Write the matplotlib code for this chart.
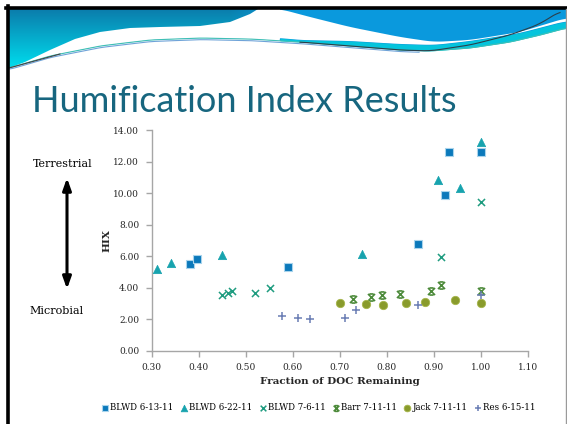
import numpy as np
import matplotlib.pyplot as plt
from matplotlib.path import Path
from matplotlib.patches import Polygon
from matplotlib.colors import to_rgb

# HIX vs fraction of DOC remaining, one list pair per sample
blwd613_x = [0.381, 0.396, 0.590, 0.866, 0.924, 0.932, 1.000]
blwd613_y = [5.51, 5.81, 5.32, 6.76, 9.90, 12.60, 12.58]
blwd622_x = [0.311, 0.340, 0.450, 0.747, 0.908, 0.955, 1.000]
blwd622_y = [5.19, 5.55, 6.06, 6.14, 10.81, 10.30, 13.22]
blwd76_x = [0.450, 0.463, 0.470, 0.520, 0.551, 0.916, 1.000]
blwd76_y = [3.55, 3.65, 3.80, 3.65, 4.01, 5.95, 9.42]
barr_x = [0.727, 0.767, 0.789, 0.828, 0.893, 0.916, 1.000]
barr_y = [3.27, 3.44, 3.52, 3.61, 3.78, 4.16, 3.80]
jack_x = [0.700, 0.756, 0.791, 0.840, 0.880, 0.944, 1.000]
jack_y = [3.02, 2.98, 2.91, 3.02, 3.12, 3.23, 3.04]
res_x = [0.577, 0.612, 0.636, 0.710, 0.735, 0.867, 1.000]
res_y = [2.24, 2.09, 2.03, 2.11, 2.60, 2.89, 3.57]

labels = ['BLWD 6-13-11', 'BLWD 6-22-11', 'BLWD 7-6-11', 'Barr 7-11-11', 'Jack 7-11-11', 'Res 6-15-11']
xticks = [0.30, 0.40, 0.50, 0.60, 0.70, 0.80, 0.90, 1.00, 1.10]
yticks = [0, 2, 4, 6, 8, 10, 12, 14]

SERIF = 'DejaVu Serif'

# asterisk-ish marker: an x with short bars top and bottom
barr_marker = Path([(-1, -1), (1, 1), (-1, 1), (1, -1), (-0.6, 1), (0.6, 1), (-0.6, -1), (0.6, -1)],
                   [Path.MOVETO, Path.LINETO] * 4)


def smooth(pts, xs):
    px, py = zip(*pts)
    ys = np.interp(xs, px, py)
    k = np.ones(15) / 15
    pad = np.pad(ys, 7, mode='edge')
    return np.convolve(pad, k, mode='valid')


fig = plt.figure(figsize=(5.67, 4.24), dpi=100)

# slide background: header swoosh, borders, title, side notes
bg = fig.add_axes([0, 0, 1, 1], zorder=0)
bg.set_xlim(0, 567)
bg.set_ylim(424, 0)
bg.axis('off')

xs = np.linspace(9, 566, 600)
bottom = smooth([(9, 68), (50, 56), (100, 46), (150, 40), (200, 38), (250, 39), (300, 42),
                 (350, 46), (400, 50), (430, 51), (470, 48), (510, 42), (540, 35), (566, 28)], xs)

# gradient fill for the header band
w, h = 557, 62
gx = np.linspace(9, 566, w)[None, :, None]
gy = np.linspace(9, 71, h)[:, None, None]
top_c = np.array(to_rgb('#0b7dac'))
low_c = np.array(to_rgb('#00d8ea'))
right_c = np.array(to_rgb('#0a99dd'))
ty = np.clip((gy - 9) / 56, 0, 1)
left = top_c * (1 - ty) + low_c * ty
tx = np.clip((gx - 230) / 60, 0, 1)
img = left * (1 - tx) + right_c * tx
head_poly = Polygon([(9, 9), (566, 9)] + list(zip(xs[::-1], bottom[::-1])), closed=True,
                    facecolor='none', edgecolor='none')
bg.add_patch(head_poly)
im = bg.imshow(img, extent=(9, 566, 71, 9), origin='upper', aspect='auto', zorder=1)
im.set_clip_path(head_poly)

# white swoosh
up_x = [9, 25, 50, 75, 100, 130, 160, 200, 230, 250, 258]
up_y = [68, 62, 50, 39, 32, 28, 27, 26, 22, 14, 9]
rx = np.linspace(280, 566, 200)
r_up = smooth([(280, 9), (310, 17), (350, 27), (400, 37), (434, 42), (470, 40), (520, 32), (566, 18)], rx)
r_lo = smooth([(280, 38), (300, 40), (350, 41), (400, 44), (434, 45), (470, 41), (520, 33), (566, 21)], rx)
lo_mask = xs < 280
white = (list(zip(up_x, up_y)) + [(280, 9)] + list(zip(rx, r_up)) +
         list(zip(rx[::-1], r_lo[::-1])) + list(zip(xs[lo_mask][::-1], bottom[lo_mask][::-1])))
bg.add_patch(Polygon(white, closed=True, facecolor='white', edgecolor='none', zorder=2))

# cyan strip under the white on the right
band_bot = np.interp(rx, xs, bottom)
bg.fill_between(rx, r_lo, band_bot, color='#05c4dc', lw=0, zorder=2)

# thin lines along the lower edge
bg.plot(xs, bottom, color='#3fbfb5', lw=0.8, zorder=3)
bg.plot(xs[xs < 420], bottom[xs < 420] + 1.6, color='#6fa3d8', lw=0.8, zorder=3)
dx = np.linspace(300, 560, 200)
dline = smooth([(300, 42), (350, 46), (400, 50), (430, 51), (470, 45), (510, 35), (540, 24), (560, 11)], dx)
bg.plot(dx, dline, color='#2b3f4a', lw=0.8, zorder=3)
bg.plot([9, 60], [68, 54], color='#444444', lw=0.8, zorder=3)

# slide frame
bg.plot([7.5, 7.5], [6, 424], color='black', lw=2.6, zorder=4)
bg.plot([6, 567], [7.5, 7.5], color='black', lw=2.6, zorder=4)
bg.plot([565.5, 565.5], [9, 424], color='#9a9a9a', lw=1, zorder=4)

bg.text(32, 112, 'Humification Index Results', fontsize=26, color='#17667f',
        family='Lato', va='baseline', ha='left', zorder=4)

bg.text(63, 167, 'Terrestrial', fontsize=8, family=SERIF, ha='center', va='baseline')
bg.text(57, 314, 'Microbial', fontsize=8, family=SERIF, ha='center', va='baseline')
bg.annotate('', xy=(67, 178), xytext=(67, 289),
            arrowprops=dict(arrowstyle='<|-|>,head_length=0.7,head_width=0.25',
                            color='black', lw=2.2, shrinkA=0, shrinkB=0))

# scatter chart
ax = fig.add_axes([151.7 / 567, 73 / 424, 376.3 / 567, 221 / 424], zorder=1)
ax.patch.set_alpha(0)

ax.scatter(blwd613_x, blwd613_y, marker='s', s=34, color='#0b79bb', edgecolors='#a9d4ec',
           linewidths=0.8, label=labels[0], zorder=3)
ax.scatter(blwd622_x, blwd622_y, marker='^', s=36, color='#17a3ae', edgecolors='#17a3ae',
           linewidths=0.5, label=labels[1], zorder=3)
ax.scatter(blwd76_x, blwd76_y, marker='x', s=26, color='#1f9c80', linewidths=1.1,
           label=labels[2], zorder=3)
ax.scatter(barr_x, barr_y, marker=barr_marker, s=26, color='#4c8a3a', linewidths=1.2,
           label=labels[3], zorder=3)
ax.scatter(jack_x, jack_y, marker='o', s=36, color='#899b2c', edgecolors='#a5b54a',
           linewidths=0.6, label=labels[4], zorder=3)
ax.scatter(res_x, res_y, marker='+', s=30, color='#6a7db4', linewidths=1.1,
           label=labels[5], zorder=3)

ax.set_xlim(0.30, 1.10)
ax.set_ylim(0, 14)
ax.set_xticks(xticks)
ax.set_yticks(yticks)
ax.set_xticklabels(['%.2f' % v for v in xticks])
ax.set_yticklabels(['%.2f' % v for v in yticks])
for s in ['top', 'right']:
    ax.spines[s].set_visible(False)
for s in ['left', 'bottom']:
    ax.spines[s].set_color('#a6a6a6')
    ax.spines[s].set_linewidth(1.0)
ax.tick_params(axis='both', direction='out', length=4, color='#a6a6a6', width=1,
               labelsize=6.5, labelcolor='#262626')
ax.tick_params(axis='x', pad=5)
ax.tick_params(axis='y', pad=5)
for t in ax.get_xticklabels() + ax.get_yticklabels():
    t.set_family(SERIF)

ax.set_xlabel('Fraction of DOC Remaining', family=SERIF, fontsize=7.5, fontweight='bold',
              color='#262626', labelpad=3)
ax.set_ylabel('HIX', family=SERIF, fontsize=7.5, fontweight='bold', color='#262626', labelpad=1)

leg = ax.legend(loc='center', bbox_to_anchor=(319 / 567, 16 / 424), bbox_transform=fig.transFigure,
                ncol=6, frameon=False, prop={'family': SERIF, 'size': 6.2},
                handlelength=0.6, handletextpad=0.3, columnspacing=0.9, markerscale=0.8)

fig.savefig('out.png', dpi=100)
